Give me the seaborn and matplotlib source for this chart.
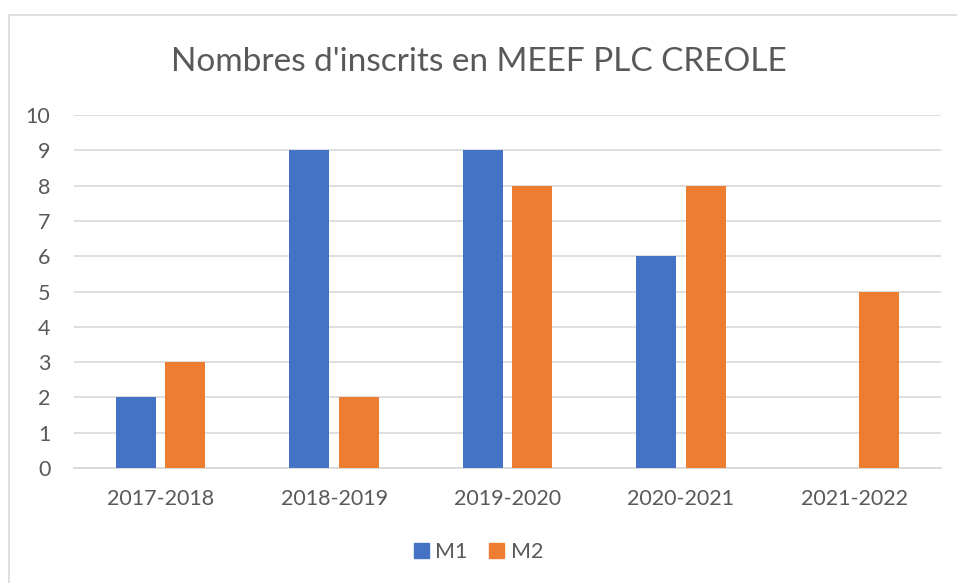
import numpy as np
import pandas as pd
import seaborn as sns
import matplotlib.pyplot as plt
from matplotlib.patches import Rectangle

# data
annees = ["2017-2018", "2018-2019", "2019-2020", "2020-2021", "2021-2022"]
m1 = [2, 9, 9, 6, 0]
m2 = [3, 2, 8, 8, 5]
series = ["M1", "M2"]
couleurs = ["#4472C4", "#ED7D31"]
titre = "Nombres d'inscrits en MEEF PLC CREOLE"

df = pd.DataFrame({
    "annee": annees * 2,
    "inscrits": m1 + m2,
    "niveau": [series[0]] * len(m1) + [series[1]] * len(m2),
})

sns.set_theme(style="white")
plt.rcParams["font.family"] = ["Lato", "DejaVu Sans"]
txt = "#595959"
grid = "#D9D9D9"

fig = plt.figure(figsize=(9.57, 5.83), dpi=100)
ax = fig.add_axes([74 / 957, 1 - 468 / 583, (941 - 74) / 957, (468 - 115) / 583])

sns.barplot(data=df, x="annee", y="inscrits", hue="niveau", order=annees,
            hue_order=series, palette=couleurs, saturation=1,
            width=0.57, gap=0.19, ax=ax, legend=False, zorder=3,
            edgecolor="none", linewidth=0)

ax.set_ylim(0, 10)
ax.set_xlim(-0.5, len(annees) - 0.5)
ax.set_yticks(range(0, 11))
ax.yaxis.grid(True, color=grid, linewidth=1.2, zorder=0)
ax.set_axisbelow(True)
for s in ["top", "right", "left"]:
    ax.spines[s].set_visible(False)
ax.spines["bottom"].set_color(grid)
ax.spines["bottom"].set_linewidth(1.3)
ax.tick_params(axis="both", length=0, labelsize=15.5, colors=txt)
ax.tick_params(axis="y", pad=17)
ax.tick_params(axis="x", pad=15)
ax.set_xlabel("")
ax.set_ylabel("")

fig.text(0.5, 1 - 62 / 583, titre, ha="center", va="center", fontsize=24, color=txt)

# legend under the axis
handles = [Rectangle((0, 0), 1, 1, color=c) for c in couleurs]
fig.legend(handles, series, loc="center", bbox_to_anchor=(0.5, 1 - 552 / 583), ncol=2,
           frameon=False, fontsize=15.5, labelcolor=txt, handlelength=0.7, handleheight=0.7,
           handletextpad=0.3, columnspacing=1.0)

# chart area border
fig.patches.append(Rectangle((9 / 957, -0.05), 1.0, 1 - 15 / 583 + 0.05, transform=fig.transFigure,
                             fill=False, edgecolor=grid, linewidth=1.2))

fig.savefig("out.png", dpi=100, facecolor="white")
